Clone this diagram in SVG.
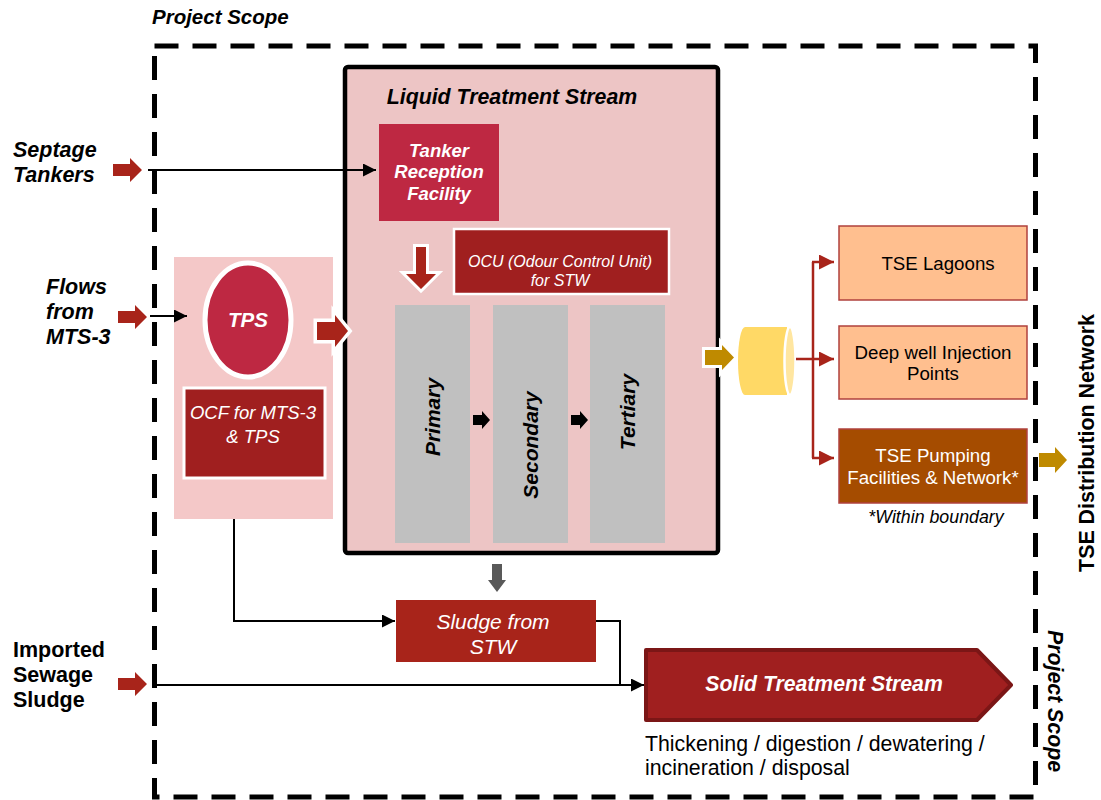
<svg xmlns="http://www.w3.org/2000/svg" width="1101" height="800" viewBox="0 0 1101 800">
<style>
text{font-family:"Liberation Sans",Arial,sans-serif}
.bi{font-weight:bold;font-style:italic}
.b{font-weight:bold}
.i{font-style:italic}
.w{fill:#fff}
.k{fill:#000}
.conn{fill:none;stroke:#000;stroke-width:2}
.rconn{fill:none;stroke:#A8241A;stroke-width:2.5}
</style>
<defs>
<marker id="ah" viewBox="0 0 10 10" refX="10" refY="5" markerWidth="6.5" markerHeight="6.5" markerUnits="strokeWidth" orient="auto">
<path d="M0,0 L10,5 L0,10 Z" fill="#000"/>
</marker>
<marker id="rah" viewBox="0 0 10 10" refX="10" refY="5" markerWidth="6" markerHeight="6" markerUnits="strokeWidth" orient="auto">
<path d="M0,0 L10,5 L0,10 Z" fill="#A8241A"/>
</marker>
<path id="blk" d="M0,-6 L17,-6 L17,-12 L29,0 L17,12 L17,6 L0,6 Z"/>
</defs>
<rect width="1101" height="800" fill="#fff"/>

<!-- Project scope boundary -->
<g id="project-scope">
<rect x="154.5" y="46" width="881" height="751" fill="none" stroke="#000" stroke-width="5" stroke-dasharray="24 14"/>
<text x="152" y="24" class="bi" font-size="20.5">Project Scope</text>
<text transform="translate(1055,701) rotate(90)" text-anchor="middle" dominant-baseline="central" class="bi" font-size="21.3">Project Scope</text>
</g>

<!-- Liquid treatment stream -->
<g id="liquid-stream">
<rect x="345" y="67" width="373" height="486" rx="3" fill="#EDC5C5" stroke="#000" stroke-width="4.5"/>
<text x="512" y="104" text-anchor="middle" class="bi" font-size="21.3">Liquid Treatment Stream</text>
</g>

<g id="tanker-reception">
<rect x="379" y="124" width="120" height="97" fill="#BE2842"/>
<text x="439" y="157" text-anchor="middle" class="bi w" font-size="18.5">Tanker</text>
<text x="439" y="178" text-anchor="middle" class="bi w" font-size="18.5">Reception</text>
<text x="439" y="200" text-anchor="middle" class="bi w" font-size="18.5">Facility</text>
</g>

<g id="ocu">
<rect x="454" y="229" width="215" height="65" fill="#A01F1F" stroke="#fff" stroke-width="2.5"/>
<text x="560" y="267" text-anchor="middle" class="i w" font-size="16">OCU (Odour Control Unit)</text>
<text x="560" y="286" text-anchor="middle" class="i w" font-size="16">for STW</text>
</g>

<g id="primary">
<rect x="395" y="305" width="75" height="238" fill="#C0C0C0"/>
<text transform="translate(432,417) rotate(-90)" text-anchor="middle" dominant-baseline="central" class="bi" font-size="21">Primary</text>
</g>
<g id="secondary">
<rect x="493" y="305" width="75" height="238" fill="#C0C0C0"/>
<text transform="translate(530,445) rotate(-90)" text-anchor="middle" dominant-baseline="central" class="bi" font-size="21">Secondary</text>
</g>
<g id="tertiary">
<rect x="590" y="305" width="75" height="238" fill="#C0C0C0"/>
<text transform="translate(627,412) rotate(-90)" text-anchor="middle" dominant-baseline="central" class="bi" font-size="21">Tertiary</text>
</g>

<!-- TPS container -->
<g id="tps-area">
<rect x="174" y="257" width="159" height="262" fill="#F4C8C8"/>
</g>
<g id="tps">
<ellipse cx="248" cy="320" rx="43" ry="57" fill="#BE2842" stroke="#fff" stroke-width="5"/>
<text x="248" y="327" text-anchor="middle" class="bi w" font-size="20.5">TPS</text>
</g>
<g id="ocf">
<rect x="184" y="388" width="141" height="90" fill="#A01F1F" stroke="#fff" stroke-width="3"/>
<text x="253" y="419" text-anchor="middle" class="i w" font-size="18.5">OCF for MTS-3</text>
<text x="253" y="443" text-anchor="middle" class="i w" font-size="18.5">&amp; TPS</text>
</g>

<g id="sludge-stw">
<rect x="396" y="600" width="200" height="62" fill="#A8241A"/>
<text x="493" y="629" text-anchor="middle" class="i w" font-size="21">Sludge from</text>
<text x="493" y="654" text-anchor="middle" class="i w" font-size="21">STW</text>
</g>

<g id="solid-stream">
<path d="M646,650 L977,650 L1011,685 L977,720 L646,720 Z" fill="#A01F1F" stroke="#7B1616" stroke-width="4" stroke-linejoin="round"/>
<text x="824" y="691" text-anchor="middle" class="bi w" font-size="21.2">Solid Treatment Stream</text>
<text x="645" y="751" font-size="21.3">Thickening / digestion / dewatering /</text>
<text x="645" y="775" font-size="21.3">incineration / disposal</text>
</g>

<g id="storage">
<path d="M745,327 L787,327 L787,395 L745,395 A7,34 0 0 1 745,327 Z" fill="#FFD966"/>
<ellipse cx="790" cy="361" rx="5.5" ry="34" fill="#FFE6A0" stroke="#fff" stroke-width="2.5"/>
</g>

<g id="tse-lagoons">
<rect x="839" y="226" width="188" height="74" fill="#FFBF8F" stroke="#B0413E" stroke-width="1.5"/>
<text x="938" y="270" text-anchor="middle" font-size="18.7">TSE Lagoons</text>
</g>
<g id="deep-well">
<rect x="839" y="326" width="188" height="73" fill="#FFBF8F" stroke="#B0413E" stroke-width="1.5"/>
<text x="933" y="359" text-anchor="middle" font-size="18.7">Deep well Injection</text>
<text x="933" y="380" text-anchor="middle" font-size="18.7">Points</text>
</g>
<g id="tse-pumping">
<rect x="839" y="429" width="188" height="74" fill="#A54C00" stroke="#B0413E" stroke-width="1.5"/>
<text x="933" y="462" text-anchor="middle" class="w" font-size="18.7">TSE Pumping</text>
<text x="933" y="484" text-anchor="middle" class="w" font-size="18.7">Facilities &amp; Network*</text>
<text x="936" y="523" text-anchor="middle" class="i" font-size="17.8">*Within boundary</text>
</g>

<g id="inputs">
<text x="13" y="157" class="bi" font-size="21.5">Septage</text>
<text x="13" y="182" class="bi" font-size="21.5">Tankers</text>
<text x="46" y="294" class="bi" font-size="21.5">Flows</text>
<text x="46" y="319" class="bi" font-size="21.5">from</text>
<text x="46" y="344" class="bi" font-size="21.5">MTS-3</text>
<text x="13" y="657" class="b" font-size="21.5">Imported</text>
<text x="13" y="682" class="b" font-size="21.5">Sewage</text>
<text x="13" y="707" class="b" font-size="21.5">Sludge</text>
<text transform="translate(1087,443) rotate(-90)" text-anchor="middle" dominant-baseline="central" class="b" font-size="21.4">TSE Distribution Network</text>
</g>

<!-- Connectors -->
<g id="connectors">
<use href="#blk" transform="translate(113,170)" fill="#A8241A"/>
<use href="#blk" transform="translate(118,317)" fill="#A8241A"/>
<use href="#blk" transform="translate(118,684)" fill="#A8241A"/>

<path class="conn" d="M148,170 L376,170" marker-end="url(#ah)"/>
<path class="conn" d="M150,316 L187,316" marker-end="url(#ah)"/>
<path class="conn" d="M154,685 L644,685" marker-end="url(#ah)"/>
<path class="conn" d="M234,519 L234,621 L395,621" marker-end="url(#ah)"/>
<path class="conn" d="M596,621 L620,621 L620,685"/>

<path d="M416,247 L426,247 L426,274 L436,274 L421,289 L406,274 L416,274 Z" fill="#A8241A" stroke="#fff" stroke-width="6" paint-order="stroke" stroke-linejoin="miter"/>
<path d="M317,322 L335,322 L335,315 L348,331 L335,347 L335,340 L317,340 Z" fill="#A8241A" stroke="#fff" stroke-width="7" paint-order="stroke" stroke-linejoin="miter"/>
<path d="M473,415 L482,415 L482,411 L490,420 L482,429 L482,425 L473,425 Z" fill="#000"/>
<path d="M571,415 L580,415 L580,411 L588,420 L580,429 L580,425 L571,425 Z" fill="#000"/>
<path d="M492,564 L502,564 L502,580 L506,580 L497,592 L488,580 L492,580 Z" fill="#595959"/>
<path d="M705,350 L722,350 L722,345 L734,357.5 L722,370 L722,365 L705,365 Z" fill="#BF8A00" stroke="#fff" stroke-width="6" paint-order="stroke" stroke-linejoin="miter"/>
<path d="M1039,453 L1055,453 L1055,447 L1067,460 L1055,473 L1055,467 L1039,467 Z" fill="#BF8A00"/>

<path class="rconn" d="M796,359 L834,359" marker-end="url(#rah)"/>
<path class="rconn" d="M813,262 L813,458"/>
<path class="rconn" d="M812,262 L834,262" marker-end="url(#rah)"/>
<path class="rconn" d="M812,458 L834,458" marker-end="url(#rah)"/>
</g>
</svg>
